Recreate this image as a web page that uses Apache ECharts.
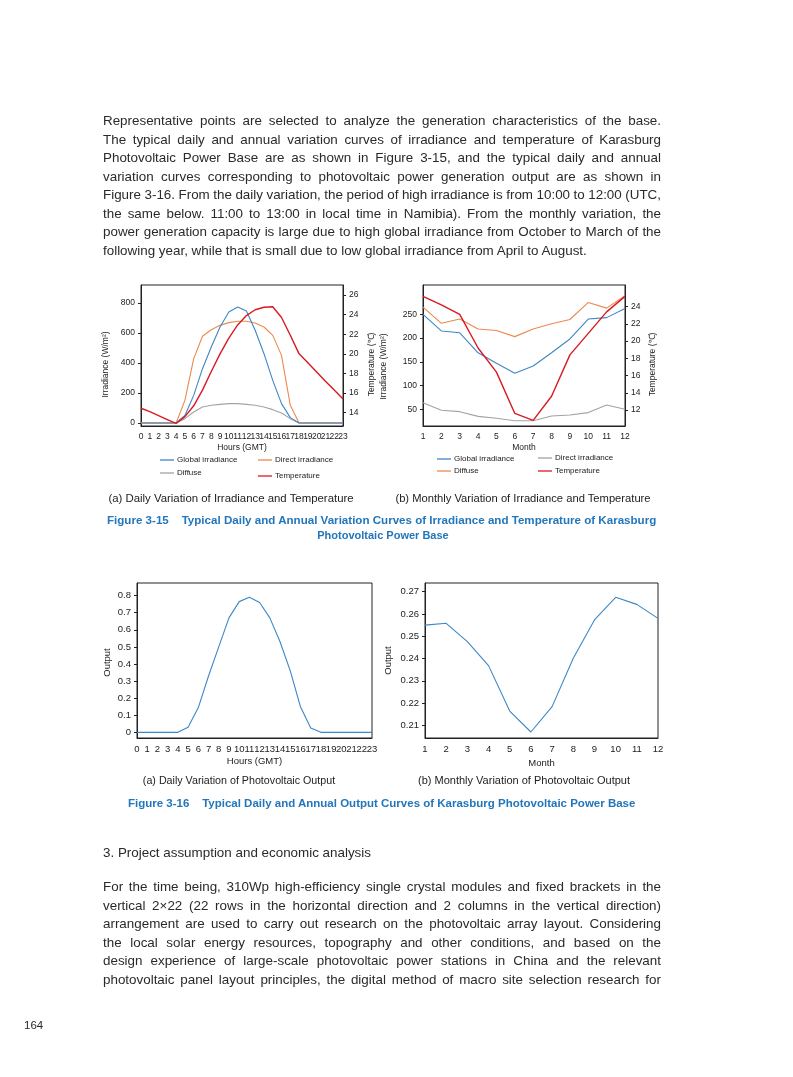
<!DOCTYPE html>
<html><head><meta charset="utf-8">
<script src="https://cdn.jsdelivr.net/npm/echarts@6/dist/echarts.min.js"></script>
<style>
html,body{margin:0;padding:0;background:#fff;}
#page{position:relative;width:793px;height:1077px;overflow:hidden;font-family:'Liberation Sans',Arial,Helvetica,sans-serif;color:#2a2a2a;}
#chart{position:absolute;left:0;top:0;width:793px;height:1077px;}
.t{position:absolute;white-space:nowrap;display:inline-block;line-height:16px;}
.body{font-size:13.4px;left:103px;}
.cap{font-size:11px;color:#222;}
.fig{font-size:10.5px;font-weight:bold;color:#2276bb;}
</style></head>
<body><div id="page"><div id="chart"></div></div>
<script>
// ---------------- DATA ----------------
const hours = ['0','1','2','3','4','5','6','7','8','9','10','11','12','13','14','15','16','17','18','19','20','21','22','23'];
const months = ['1','2','3','4','5','6','7','8','9','10','11','12'];

const dailyGlobal  = [0,0,0,0,0,50,184,362,507,640,740,773,747,618,462,284,129,36,0,0,0,0,0,0];
const dailyDirect  = [0,0,0,0,0,151,429,578,622,651,669,678,678,667,640,584,451,118,0,0,0,0,0,0];
const dailyDiffuse = [0,0,0,0,0,29,73,107,118,124,129,129,124,118,107,89,67,29,0,0,0,0,0,0];
const dailyTemp    = [14.45,14.1,13.7,13.3,12.9,13.6,14.7,16.3,18.2,20.0,21.6,22.95,23.9,24.5,24.75,24.8,23.7,21.9,20.0,19.1,18.15,17.2,16.3,15.4];

const monthGlobal  = [250,215,211,169,147,126,141,169,198,240,243,262];
const monthDirect  = [64,48,45,35,31,26,26,36,38,43,59,50];
const monthDiffuse = [265,231,240,219,216,203,219,230,239,275,263,289];
const monthTemp    = [25.2,24.2,23.1,19.2,16.4,11.6,10.8,13.6,18.4,20.9,23.4,25.2];

const dailyOutput  = [0,0,0,0,0,0.03,0.145,0.33,0.5,0.67,0.765,0.79,0.76,0.67,0.53,0.36,0.15,0.025,0,0,0,0,0,0];
const monthOutput  = [0.255,0.2558,0.2476,0.2368,0.2164,0.207,0.2184,0.2401,0.2573,0.2675,0.2643,0.258];

const irrTicksA  = [0,200,400,600,800];
const tempTicksA = [14,16,18,20,22,24,26];
const irrTicksB  = [50,100,150,200,250];
const tempTicksB = [12,14,16,18,20,22,24];
const outTicksA  = [0,0.1,0.2,0.3,0.4,0.5,0.6,0.7,0.8];
const outTicksB  = [0.21,0.22,0.23,0.24,0.25,0.26,0.27];

// ---------------- TEXT ----------------
const para1 = [
 'Representative points are selected to analyze the generation characteristics of the base.',
 'The typical daily and annual variation curves of irradiance and temperature of Karasburg',
 'Photovoltaic Power Base are as shown in Figure 3-15, and the typical daily and annual',
 'variation curves corresponding to photovoltaic power generation output are as shown in',
 'Figure 3-16. From the daily variation, the period of high irradiance is from 10:00 to 12:00 (UTC,',
 'the same below. 11:00 to 13:00 in local time in Namibia). From the monthly variation, the',
 'power generation capacity is large due to high global irradiance from October to March of the',
 'following year, while that is small due to low global irradiance from April to August.'
];
const para2 = [
 'For the time being, 310Wp high-efficiency single crystal modules and fixed brackets in the',
 'vertical 2\u00d722 (22 rows in the horizontal direction and 2 columns in the vertical direction)',
 'arrangement are used to carry out research on the photovoltaic array layout. Considering',
 'the local solar energy resources, topography and other conditions, and based on the',
 'design experience of large-scale photovoltaic power stations in China and the relevant',
 'photovoltaic panel layout principles, the digital method of macro site selection research for'
];

const page = document.getElementById('page');
function addText(txt, cls, x, yc, opts) {
  const el = document.createElement('div');
  el.className = 't ' + cls;
  el.textContent = txt;
  page.appendChild(el);
  el.style.top = (yc - 8) + 'px';
  if (opts && opts.size) el.style.fontSize = opts.size + 'px';
  let w = el.getBoundingClientRect().width;
  if (opts && opts.fit) {
    const n = (txt.match(/ /g) || []).length;
    el.style.wordSpacing = ((opts.fit - w) / n) + 'px';
    el.style.left = x + 'px';
  } else if (opts && opts.scale) {
    const fs = parseFloat(getComputedStyle(el).fontSize);
    el.style.fontSize = (fs * opts.scale / w) + 'px';
    el.style.left = x + 'px';
  } else if (opts && opts.center) {
    el.style.left = (x - w / 2) + 'px';
  } else {
    el.style.left = x + 'px';
  }
  return el;
}
para1.forEach((s, i) => addText(s, 'body', 103, 121 + i * 18.57, i < para1.length - 1 ? {fit: 558} : null));
addText('3. Project assumption and economic analysis', 'body', 103, 853);
para2.forEach((s, i) => addText(s, 'body', 103, 887 + i * 18.6, {fit: 558}));
addText('164', 'body', 24, 1025).style.fontSize = '11.5px';

addText('(a) Daily Variation of Irradiance and Temperature', 'cap', 231, 498, {center: true, size: 11.4});
addText('(b) Monthly Variation of Irradiance and Temperature', 'cap', 523, 498, {center: true, size: 11.2});
addText('Figure 3-15\u00a0\u00a0\u00a0\u00a0Typical Daily and Annual Variation Curves of Irradiance and Temperature of Karasburg', 'fig', 107, 520, {scale: 550});
addText('Photovoltaic Power Base', 'fig', 383, 535, {center: true, size: 11});
addText('(a) Daily Variation of Photovoltaic Output', 'cap', 239, 780, {center: true, size: 10.7});
addText('(b) Monthly Variation of Photovoltaic Output', 'cap', 524, 780, {center: true, size: 11});
addText('Figure 3-16\u00a0\u00a0\u00a0\u00a0Typical Daily and Annual Output Curves of Karasburg Photovoltaic Power Base', 'fig', 128, 803, {scale: 508});

// ---------------- CHART ----------------
const BLUE = '#3d87c6', ORANGE = '#ea8a50', GRAY = '#a3a3a3', RED = '#d81a22';
const FONT = 'Liberation Sans';
const AXC = '#222';

function xAx(grid, data, name, fs, gap) {
  return {
    type: 'category', gridIndex: grid, data: data, boundaryGap: false,
    name: name, nameLocation: 'middle', nameGap: gap,
    nameTextStyle: {fontSize: fs, color: AXC, fontFamily: FONT},
    axisLine: {onZero: false, lineStyle: {color: AXC, width: 1}},
    axisTick: {show: false},
    axisLabel: {interval: 0, fontSize: fs, color: AXC, margin: 6, fontFamily: FONT},
    splitLine: {show: false}
  };
}
function yAx(grid, min, max, ticks, name, pos, fs, gap, shift, fmt) {
  return {
    type: 'value', gridIndex: grid, min: min, max: max, position: pos,
    name: name, nameLocation: 'middle', nameGap: gap,
    nameTextStyle: {fontSize: fs, color: AXC, fontFamily: FONT, padding: [0, shift, 0, 0]},
    axisLine: {show: true, onZero: false, lineStyle: {color: AXC, width: 1}},
    axisTick: {show: true, length: 3, customValues: ticks, lineStyle: {color: AXC}},
    axisLabel: {customValues: ticks, fontSize: fs, color: AXC, margin: 6, fontFamily: FONT,
                formatter: fmt || (v => String(v))},
    splitLine: {show: false}
  };
}
function ln(name, xi, yi, data, color, w) {
  return {name: name, type: 'line', xAxisIndex: xi, yAxisIndex: yi, data: data,
    symbol: 'none', showSymbol: false, lineStyle: {color: color, width: w}, itemStyle: {color: color}};
}
function lg(name, left, top) {
  return {data: [name], left: left, top: top, padding: 0, icon: 'rect', itemWidth: 14, itemHeight: 1.3,
    textStyle: {fontSize: 8, color: AXC, fontFamily: FONT, padding: [0, 0, 0, -2]},
    formatter: n => n.replace(' (b)', '')};
}

const gridStyle = {show: true, borderColor: AXC, borderWidth: 1, containLabel: false};
const option = {
  animation: false,
  textStyle: {fontFamily: FONT},
  grid: [
    Object.assign({left: 141, top: 285, width: 202, height: 141}, gridStyle),
    Object.assign({left: 423, top: 285, width: 202, height: 141}, gridStyle),
    Object.assign({left: 137, top: 583, width: 235, height: 155}, gridStyle),
    Object.assign({left: 425, top: 583, width: 233, height: 155}, gridStyle)
  ],
  xAxis: [
    xAx(0, hours, 'Hours (GMT)', 8.5, 17),
    xAx(1, months, 'Month', 8.5, 17),
    xAx(2, hours, 'Hours (GMT)', 9.5, 18),
    xAx(3, months, 'Month', 9.5, 20)
  ],
  yAxis: [
    yAx(0, -20, 920, irrTicksA, 'Irradiance (W/m\u00b2)', 'left', 8.5, 31, 18),
    yAx(0, 12.64, 27.02, tempTicksA, 'Temperature (\u2103)', 'right', 8.5, 24, 18),
    yAx(1, 14.8, 311.7, irrTicksB, 'Irradiance (W/m\u00b2)', 'left', 8.5, 35, 22),
    yAx(1, 10.14, 26.52, tempTicksB, 'Temperature (\u2103)', 'right', 8.5, 23, 18),
    yAx(2, -0.033, 0.874, outTicksA, 'Output', 'left', 9.5, 25, 4, v => (v === 0 ? '0' : v.toFixed(1))),
    yAx(3, 0.2043, 0.2739, outTicksB, 'Output', 'left', 9.5, 32, 0, v => v.toFixed(2))
  ],
  legend: [
    lg('Global irradiance', 160, 456), lg('Direct irradiance', 258, 456),
    lg('Diffuse', 160, 469), lg('Temperature', 258, 472),
    lg('Global irradiance (b)', 437, 455), lg('Direct irradiance (b)', 538, 454),
    lg('Diffuse (b)', 437, 467), lg('Temperature (b)', 538, 467)
  ],
  series: [
    ln('Diffuse', 0, 0, dailyDiffuse, GRAY, 1.1),
    ln('Direct irradiance', 0, 0, dailyDirect, ORANGE, 1.1),
    ln('Global irradiance', 0, 0, dailyGlobal, BLUE, 1.1),
    ln('Temperature', 0, 1, dailyTemp, RED, 1.4),
    ln('Direct irradiance (b)', 1, 2, monthDirect, GRAY, 1.1),
    ln('Diffuse (b)', 1, 2, monthDiffuse, ORANGE, 1.1),
    ln('Global irradiance (b)', 1, 2, monthGlobal, BLUE, 1.1),
    ln('Temperature (b)', 1, 3, monthTemp, RED, 1.4),
    ln('Output A', 2, 4, dailyOutput, BLUE, 1.1),
    ln('Output B', 3, 5, monthOutput, BLUE, 1.1)
  ]
};
const chart = echarts.init(document.getElementById('chart'), null, {renderer: 'canvas'});
chart.setOption(option);
</script>
</body></html>
